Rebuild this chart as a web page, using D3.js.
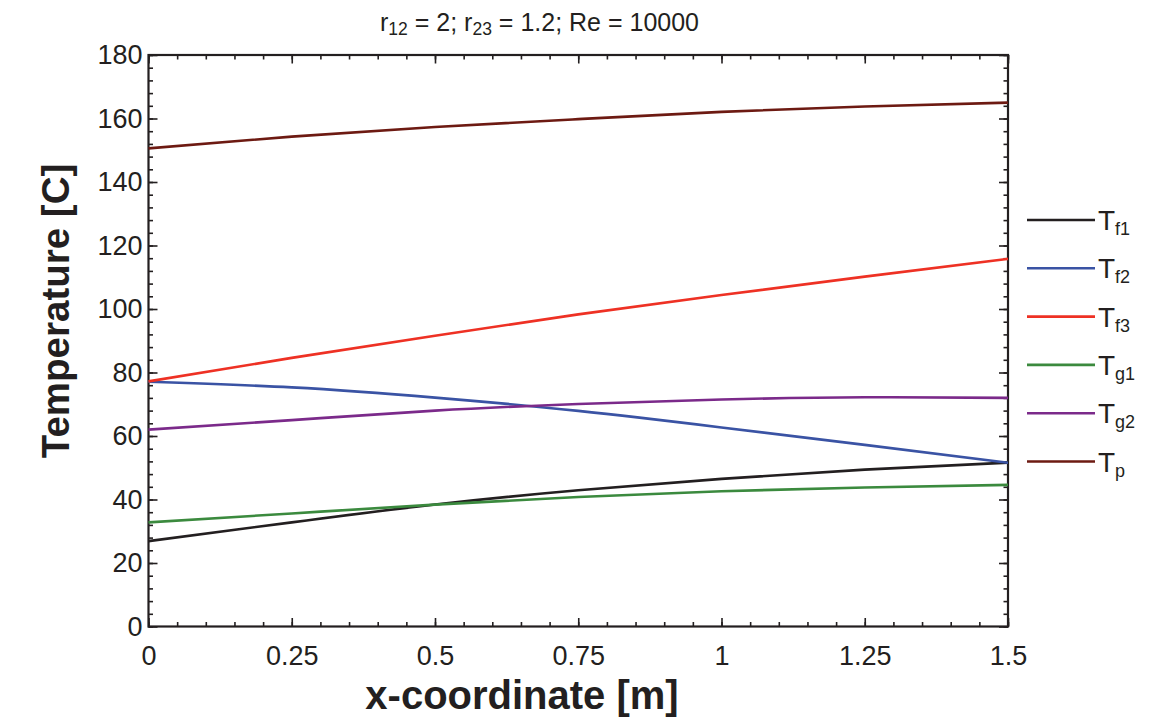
<!DOCTYPE html>
<html>
<head>
<meta charset="utf-8">
<script src="https://cdn.jsdelivr.net/npm/d3@7"></script>
<style>
  html, body { margin: 0; padding: 0; background: #fff; }
  svg { display: block; font-family: "Liberation Sans", Arial, Helvetica, sans-serif; }
</style>
</head>
<body>
<svg id="chart" width="1164" height="719"></svg>
<script>
// ---- data ----
const xValues = [0, 0.25, 0.5, 0.75, 1.0, 1.25, 1.5];
const Tf1 = [26.9, 32.8, 38.4, 42.9, 46.5, 49.4, 51.6];
const Tf2 = [77.1, 75.3, 72.1, 67.9, 62.7, 57.2, 51.6];
const Tf3 = [77.2, 84.6, 91.6, 98.3, 104.4, 110.2, 115.8];
const Tg1 = [32.8, 35.6, 38.4, 40.8, 42.6, 43.8, 44.6];
const Tg2 = [62.0, 65.0, 68.0, 70.1, 71.5, 72.2, 72.0];
const Tp  = [150.6, 154.3, 157.3, 159.8, 162.1, 163.8, 165.0];
const seriesNames = ["Tf1", "Tf2", "Tf3", "Tg1", "Tg2", "Tp"];
const seriesSubs  = ["f1", "f2", "f3", "g1", "g2", "p"];
const seriesColors = ["#231f20", "#3a53a4", "#ee3124", "#3b8a3e", "#7b2a8a", "#6d1a12"];
const seriesValues = [Tf1, Tf2, Tf3, Tg1, Tg2, Tp];
const xTicks = [0, 0.25, 0.5, 0.75, 1, 1.25, 1.5];
const xTickLabels = ["0", "0.25", "0.5", "0.75", "1", "1.25", "1.5"];
const yTicks = [0, 20, 40, 60, 80, 100, 120, 140, 160, 180];

// ---- layout ----
const svg = d3.select("#chart");
const L = 148.5, R = 1008, T = 55, B = 626.5;
const x = d3.scaleLinear().domain([0, 1.5]).range([L, R]);
const y = d3.scaleLinear().domain([0, 180]).range([B, T]);
const axisColor = "#231f20";

const xMinor = d3.range(0, 1.5001, 0.05).map(v => +v.toFixed(2));
const yMinor = d3.range(0, 180.001, 4);

function styleAxis(g) {
  g.select(".domain").remove();
  g.selectAll(".tick line").attr("stroke", axisColor).attr("stroke-width", 1.6);
  g.selectAll(".tick text").attr("fill", "#231f20").attr("font-size", 27)
    .attr("font-family", "'Liberation Sans', Arial, Helvetica, sans-serif");
}

// minor ticks
svg.append("g").attr("transform", `translate(0,${B})`)
  .call(d3.axisBottom(x).tickValues(xMinor).tickSize(-4.5).tickFormat("")).call(styleAxis);
svg.append("g").attr("transform", `translate(0,${T})`)
  .call(d3.axisTop(x).tickValues(xMinor).tickSize(-4.5).tickFormat("")).call(styleAxis);
svg.append("g").attr("transform", `translate(${L},0)`)
  .call(d3.axisLeft(y).tickValues(yMinor).tickSize(-4.5).tickFormat("")).call(styleAxis);
svg.append("g").attr("transform", `translate(${R},0)`)
  .call(d3.axisRight(y).tickValues(yMinor).tickSize(-4.5).tickFormat("")).call(styleAxis);

// major ticks
svg.append("g").attr("transform", `translate(0,${B})`)
  .call(d3.axisBottom(x).tickValues(xTicks).tickSize(-8.5).tickPadding(19)
    .tickFormat((d, i) => xTickLabels[i])).call(styleAxis);
svg.append("g").attr("transform", `translate(0,${T})`)
  .call(d3.axisTop(x).tickValues(xTicks).tickSize(-8.5).tickFormat("")).call(styleAxis);
svg.append("g").attr("transform", `translate(${L},0)`)
  .call(d3.axisLeft(y).tickValues(yTicks).tickSize(-9).tickPadding(6)).call(styleAxis);
svg.append("g").attr("transform", `translate(${R},0)`)
  .call(d3.axisRight(y).tickValues(yTicks).tickSize(-9).tickFormat("")).call(styleAxis);

// frame
svg.append("rect").attr("x", L).attr("y", T).attr("width", R - L).attr("height", B - T)
  .attr("fill", "none").attr("stroke", axisColor).attr("stroke-width", 2.2);

// lines
const line = d3.line().x((d, i) => x(xValues[i])).y(d => y(d)).curve(d3.curveNatural);
seriesValues.forEach((vals, k) => {
  svg.append("path").datum(vals).attr("d", line)
    .attr("fill", "none").attr("stroke", seriesColors[k]).attr("stroke-width", 2.6);
});

// legend
const legY0 = 220, legDy = 48.3;
seriesNames.forEach((n, k) => {
  const ly = legY0 + k * legDy;
  svg.append("line").attr("x1", 1027).attr("x2", 1095).attr("y1", ly).attr("y2", ly)
    .attr("stroke", seriesColors[k]).attr("stroke-width", 2.6);
  const t = svg.append("text").attr("x", 1098).attr("y", ly + 10)
    .attr("font-size", 28).attr("fill", "#231f20");
  t.append("tspan").text("T");
  t.append("tspan").attr("font-size", 18).attr("dy", 5).text(seriesSubs[k]);
});

// title
const title = svg.append("text").attr("x", 380).attr("y", 30.5)
  .attr("font-size", 25).attr("fill", "#231f20");
title.append("tspan").text("r");
title.append("tspan").attr("font-size", 17.5).attr("dy", 4).text("12");
title.append("tspan").attr("dy", -4).text(" = 2; r");
title.append("tspan").attr("font-size", 17.5).attr("dy", 4).text("23");
title.append("tspan").attr("dy", -4).text(" = 1.2; Re = 10000");

// axis titles
svg.append("text").attr("x", 522).attr("y", 709).attr("text-anchor", "middle")
  .attr("font-size", 40).attr("font-weight", "bold").attr("fill", "#231f20")
  .text("x-coordinate [m]");
svg.append("text").attr("transform", "translate(69,311) rotate(-90)").attr("text-anchor", "middle")
  .attr("font-size", 38.5).attr("font-weight", "bold").attr("fill", "#231f20")
  .text("Temperature [C]");
</script>
</body>
</html>
